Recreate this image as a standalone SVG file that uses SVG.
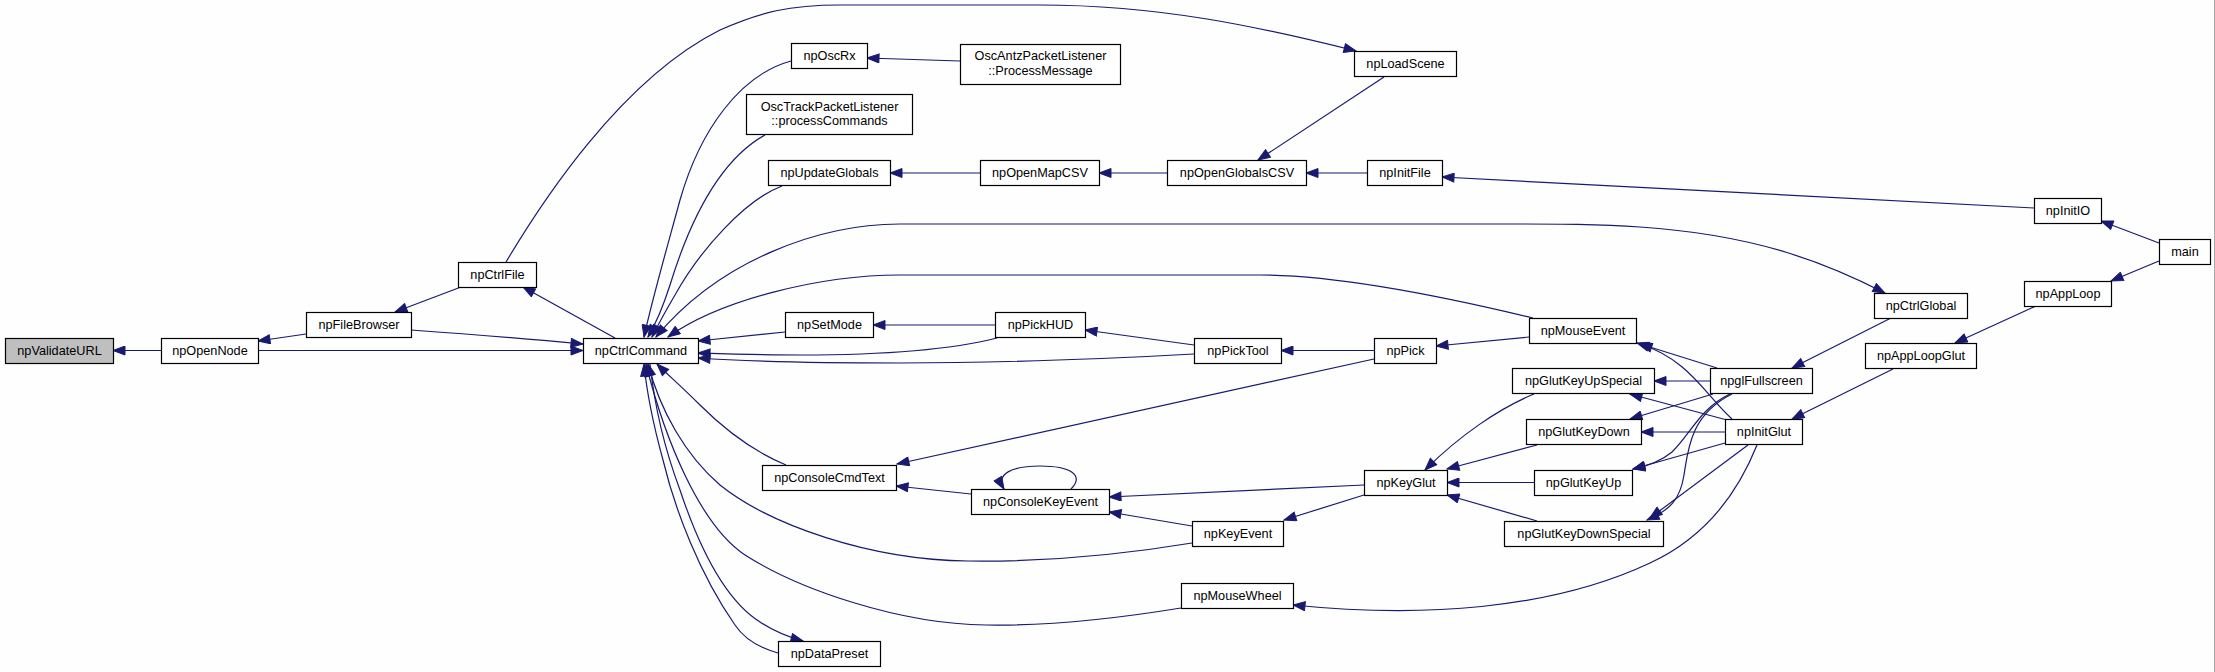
<svg xmlns="http://www.w3.org/2000/svg" width="2215" height="672" viewBox="0 0 2215 672">
<style>
.n rect{fill:#fff;stroke:#000;stroke-width:1.2}
.n.h rect{fill:#bfbfbf}
.n text{font-family:"Liberation Sans",Arial,sans-serif;font-size:12.7px;text-anchor:middle;fill:#000}
.e path{fill:none;stroke:#191970;stroke-width:1.2;marker-end:url(#a)}
.e path.b{marker-start:url(#a)}
</style>
<defs>
<marker id="a" markerWidth="14" markerHeight="10" refX="13" refY="5" orient="auto-start-reverse" markerUnits="userSpaceOnUse">
<path d="M1,0.5 L13,5 L1,9.5 Z" fill="#191970" stroke="#191970" stroke-width="1"/>
</marker>
</defs>
<rect x="0" y="0" width="2215" height="672" fill="#fdfefd"/>
<line x1="2214.5" y1="0" x2="2214.5" y2="672" stroke="#a8a8a8" stroke-width="1"/>
<g id="edges" class="e">
<path d="M161,350.5 L113,350.5"/>
<path d="M306,334 L258,341"/>
<path d="M461,287 L395,312"/>
<path d="M615,338 L523,287"/>
<path d="M411,330 C480,335 540,340 583,344"/>
<path d="M258,350.5 L583,350.5"/>
<path d="M506,262 C540,205 620,80 720,30 C760,12 790,5 840,5 L1040,5 C1160,5 1260,27 1356,51"/>
<path d="M1384,77 L1258,160"/>
<path d="M960,61 L867,58"/>
<path d="M791,61 C740,75 700,130 680,200 C665,255 652,300 644,337"/>
<path d="M765,135 C720,160 690,220 670,285 C662,310 655,325 648,337"/>
<path d="M782,186 C745,200 700,250 675,295 C665,312 658,325 652,337"/>
<path d="M980,173 L890,173"/>
<path d="M1167,173 L1099,173"/>
<path d="M1367,173 L1306,173"/>
<path d="M2034,208 L1442,177"/>
<path class="b" d="M656,337 C720,260 820,224 900,224 L1500,224 C1560,224 1600,224 1640,227 C1760,235 1830,265 1885,293"/>
<path d="M1533,318 C1450,298 1340,275 1260,275 L900,275 C820,275 720,300 668,337"/>
<path d="M785,332 L698,341"/>
<path d="M995,325 L873,325"/>
<path d="M1194,345 L1085,330"/>
<path d="M997,338 C950,350 880,355 800,355 C760,355 730,354 698,353"/>
<path d="M1194,354 C1100,359 1000,363 900,363 C800,363 740,361 698,358"/>
<path d="M1374,350.5 L1281,350.5"/>
<path d="M1529,337 L1436,346"/>
<path d="M1374,359 L897,464"/>
<path d="M786,465 C750,450 720,425 700,405 C680,385 668,375 657,364"/>
<path d="M971,494 L896,486"/>
<path d="M1364,485 L1109,497"/>
<path d="M1192,526 L1109,512"/>
<path d="M1071,489 C1085,475 1070,466 1040,466 C1012,466 995,474 1004,489"/>
<path d="M1192,543 C1120,555 1040,562 968,561 C870,560 770,525 720,485 C685,455 660,410 648,364"/>
<path d="M1181,608 C1120,618 1050,626 986,625 C900,624 800,590 745,555 C700,525 665,440 646,364"/>
<path d="M778,653 C760,648 745,640 735,625 C700,575 675,510 663,460 C652,420 647,395 644,364"/>
<path d="M650,364 C655,410 665,450 680,490 C700,550 725,600 760,622 C775,632 788,637 803,641"/>
<path d="M1364,495 L1284,520"/>
<path d="M1534,394 C1500,408 1460,435 1425,470"/>
<path d="M1537,445 L1447,469"/>
<path d="M1534,482.5 L1447,482.5"/>
<path d="M1537,521 L1447,495"/>
<path d="M1757,445 C1735,500 1700,540 1650,563 C1550,610 1420,618 1293,605"/>
<path d="M1717,368 L1637,343"/>
<path d="M1732,419 C1705,395 1690,360 1640,344"/>
<path d="M1710,381 L1654,381"/>
<path d="M1727,420 L1630,394"/>
<path d="M1713,394 L1630,419"/>
<path d="M1725,432 L1641,432"/>
<path d="M1725,443 L1633,469"/>
<path d="M1730,394 C1700,408 1690,435 1672,452 C1660,462 1648,466 1633,469"/>
<path d="M1732,394 C1690,415 1688,450 1684,475 C1680,500 1670,510 1647,520"/>
<path d="M1748,445 L1650,518"/>
<path d="M1891,318 L1792,368"/>
<path d="M1893,369 L1792,419"/>
<path d="M2036,306 L1955,343"/>
<path d="M2159,261 L2111,281"/>
<path d="M2159,243 L2101,221"/>
</g>
<g id="npValidateURL" class="n h"><rect x="5.5" y="338.5" width="108" height="25"/><text x="59.5" y="355">npValidateURL</text></g>
<g id="npOpenNode" class="n"><rect x="161.5" y="338.5" width="97" height="25"/><text x="210" y="355">npOpenNode</text></g>
<g id="npFileBrowser" class="n"><rect x="306.5" y="312.5" width="105" height="25"/><text x="359" y="329">npFileBrowser</text></g>
<g id="npCtrlFile" class="n"><rect x="458.5" y="262.5" width="78" height="25"/><text x="497.5" y="279">npCtrlFile</text></g>
<g id="npCtrlCommand" class="n"><rect x="583.5" y="338.5" width="115" height="25"/><text x="641" y="355">npCtrlCommand</text></g>
<g id="npOscRx" class="n"><rect x="791.5" y="43.5" width="76" height="25"/><text x="829.5" y="60">npOscRx</text></g>
<g id="OscAntzPacketListener_ProcessMessage" class="n"><rect x="960.5" y="44.5" width="160" height="40"/><text x="1040.5" y="60">OscAntzPacketListener</text><text x="1040.5" y="74.5">::ProcessMessage</text></g>
<g id="OscTrackPacketListener_processCommands" class="n"><rect x="746.5" y="94.5" width="166" height="40"/><text x="829.5" y="110.5">OscTrackPacketListener</text><text x="829.5" y="125">::processCommands</text></g>
<g id="npUpdateGlobals" class="n"><rect x="768.5" y="160.5" width="122" height="25"/><text x="829.5" y="177">npUpdateGlobals</text></g>
<g id="npOpenMapCSV" class="n"><rect x="980.5" y="160.5" width="119" height="25"/><text x="1040" y="177">npOpenMapCSV</text></g>
<g id="npOpenGlobalsCSV" class="n"><rect x="1167.5" y="160.5" width="139" height="25"/><text x="1237" y="177">npOpenGlobalsCSV</text></g>
<g id="npInitFile" class="n"><rect x="1367.5" y="160.5" width="75" height="25"/><text x="1405" y="177">npInitFile</text></g>
<g id="npLoadScene" class="n"><rect x="1354.5" y="51.5" width="102" height="25"/><text x="1405.5" y="68">npLoadScene</text></g>
<g id="npInitIO" class="n"><rect x="2034.5" y="198.5" width="67" height="25"/><text x="2068" y="215">npInitIO</text></g>
<g id="main" class="n"><rect x="2159.5" y="239.5" width="51" height="25"/><text x="2185" y="256">main</text></g>
<g id="npAppLoop" class="n"><rect x="2024.5" y="281.5" width="87" height="25"/><text x="2068" y="298">npAppLoop</text></g>
<g id="npCtrlGlobal" class="n"><rect x="1874.5" y="293.5" width="93" height="25"/><text x="1921" y="310">npCtrlGlobal</text></g>
<g id="npAppLoopGlut" class="n"><rect x="1865.5" y="343.5" width="111" height="25"/><text x="1921" y="360">npAppLoopGlut</text></g>
<g id="npSetMode" class="n"><rect x="785.5" y="312.5" width="88" height="25"/><text x="829.5" y="329">npSetMode</text></g>
<g id="npPickHUD" class="n"><rect x="995.5" y="312.5" width="90" height="25"/><text x="1040.5" y="329">npPickHUD</text></g>
<g id="npMouseEvent" class="n"><rect x="1529.5" y="318.5" width="107" height="25"/><text x="1583" y="335">npMouseEvent</text></g>
<g id="npPickTool" class="n"><rect x="1194.5" y="338.5" width="87" height="25"/><text x="1238" y="355">npPickTool</text></g>
<g id="npPick" class="n"><rect x="1374.5" y="338.5" width="62" height="25"/><text x="1405.5" y="355">npPick</text></g>
<g id="npglFullscreen" class="n"><rect x="1710.5" y="368.5" width="102" height="25"/><text x="1761.5" y="385">npglFullscreen</text></g>
<g id="npGlutKeyUpSpecial" class="n"><rect x="1512.5" y="368.5" width="142" height="25"/><text x="1583.5" y="385">npGlutKeyUpSpecial</text></g>
<g id="npGlutKeyDown" class="n"><rect x="1526.5" y="419.5" width="115" height="25"/><text x="1584" y="436">npGlutKeyDown</text></g>
<g id="npInitGlut" class="n"><rect x="1725.5" y="419.5" width="77" height="25"/><text x="1764" y="436">npInitGlut</text></g>
<g id="npKeyGlut" class="n"><rect x="1364.5" y="470.5" width="83" height="25"/><text x="1406" y="487">npKeyGlut</text></g>
<g id="npGlutKeyUp" class="n"><rect x="1534.5" y="470.5" width="98" height="25"/><text x="1583.5" y="487">npGlutKeyUp</text></g>
<g id="npConsoleCmdText" class="n"><rect x="762.5" y="465.5" width="134" height="25"/><text x="829.5" y="482">npConsoleCmdText</text></g>
<g id="npConsoleKeyEvent" class="n"><rect x="971.5" y="489.5" width="138" height="25"/><text x="1040.5" y="506">npConsoleKeyEvent</text></g>
<g id="npKeyEvent" class="n"><rect x="1192.5" y="521.5" width="91" height="25"/><text x="1238" y="538">npKeyEvent</text></g>
<g id="npGlutKeyDownSpecial" class="n"><rect x="1504.5" y="521.5" width="159" height="25"/><text x="1584" y="538">npGlutKeyDownSpecial</text></g>
<g id="npMouseWheel" class="n"><rect x="1181.5" y="583.5" width="112" height="25"/><text x="1237.5" y="600">npMouseWheel</text></g>
<g id="npDataPreset" class="n"><rect x="778.5" y="641.5" width="102" height="25"/><text x="829.5" y="658">npDataPreset</text></g>
</svg>
